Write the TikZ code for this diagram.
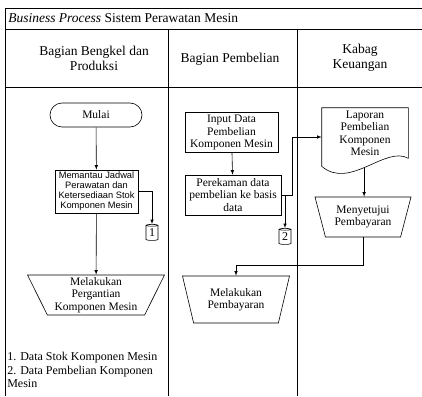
\documentclass[tikz,border=0pt]{standalone}
\usepackage{fontspec}
\setmainfont{Liberation Serif}
\newfontfamily\arialfont{Liberation Sans}
\usetikzlibrary{shapes.geometric,shapes.misc}

\begin{document}
\begin{tikzpicture}[x=1pt,y=-1pt,line width=0.6pt,
        lane/.style={align=center,font=\fontsize{13.5}{15}\selectfont},
        txt/.style={align=center,inner sep=1pt,font=\fontsize{11.5}{12.5}\selectfont},
        proc/.style={txt,draw,minimum width=93pt,minimum height=40pt},
        term/.style={txt,draw,rounded rectangle,minimum width=94pt,minimum height=24pt},
        manual/.style={txt,draw,trapezium,shape border rotate=180,trapezium stretches body,minimum height=#1},
        disk/.style={draw,cylinder,shape border rotate=90,aspect=0.3,inner sep=0pt,minimum width=12pt,minimum height=16pt,font=\fontsize{12}{12}\selectfont},
        flow/.style={-latex}]
    \useasboundingbox (0,0) rectangle (422,396);
    % frame and lanes
    \draw[line width=0.9pt] (5,396) -- (5,8) -- (422,8);
    \draw[line width=0.9pt] (5,29) -- (422,29);
    \draw[line width=0.9pt] (5,87) -- (422,87);
    \draw[line width=0.9pt] (168,29) -- (168,396);
    \draw[line width=0.9pt] (297,29) -- (297,396);
    \node[anchor=west,inner sep=0pt,font=\fontsize{13.5}{15}\selectfont] (judul) at (8,18.5) {\textit{Business Process} Sistem Perawatan Mesin};
    \node[lane] (bengkel) at (94,58) {Bagian Bengkel dan\\Produksi};
    \node[lane] (beli) at (230,59) {Bagian Pembelian};
    \node[lane] (keu) at (360,58) {Kabag\\Keuangan};

    % Bagian Bengkel dan Produksi
    \node[term] (mulai) at (96,115) {Mulai};
    \node[proc,font=\arialfont\fontsize{9.3}{10}\selectfont,minimum width=83pt,minimum height=43pt] (pantau) at (96.5,191.5) {Memantau Jadwal\\Perawatan dan\\Ketersediaan Stok\\Komponen Mesin};
    \node[disk] (d1) at (152,233) {1};
    \node[manual=40pt,minimum width=137pt,trapezium angle=62] (ganti) at (96,295) {Melakukan\\Pergantian\\Komponen Mesin};
    \node[anchor=north west,align=left,inner sep=0pt,font=\fontsize{12}{13.5}\selectfont] (ket) at (7,352) {1. Data Stok Komponen Mesin\\2. Data Pembelian Komponen\\Mesin};

    % Bagian Pembelian
    \node[proc] (input) at (231.5,132.5) {Input Data\\Pembelian\\Komponen Mesin};
    \node[proc,minimum width=96pt] (rekam) at (233,195) {Perekaman data\\pembelian ke basis\\data};
    \node[disk] (d2) at (285,237) {2};
    \node[manual=47pt,minimum width=107pt,trapezium angle=66] (bayar) at (236,299.5) {Melakukan\\Pembayaran};

    % Kabag Keuangan
    \node[txt,minimum width=86pt,minimum height=58pt,text depth=8pt] (lap) at (365,137) {Laporan\\Pembelian\\Komponen\\Mesin};
    \draw (lap.north west) -- (lap.north east) -- ([yshift=8pt]lap.south east)
        .. controls +(-23,-13) and +(28,24) .. (lap.south west) coordinate[pos=0.53] (lapbawah) -- cycle;
    \node[manual=40pt,minimum width=96pt,trapezium angle=67] (setuju) at (363,217) {Menyetujui\\Pembayaran};

    % connectors
    \draw[flow] (mulai) -- (pantau);
    \draw[flow] (pantau.east) -| (d1.north);
    \draw[flow] (pantau) -- (ganti);
    \draw[flow] (input) -- (rekam);
    \draw[flow] (rekam.east) -- ++(11,0) |- (lap.west);
    \draw[flow] (rekam.east) -| (d2.north);
    \draw[flow] (lapbawah) -- (lapbawah |- setuju.north);
    \draw[flow] (setuju.south) -- ++(0,28) -| (bayar.north);
\end{tikzpicture}
\end{document}
